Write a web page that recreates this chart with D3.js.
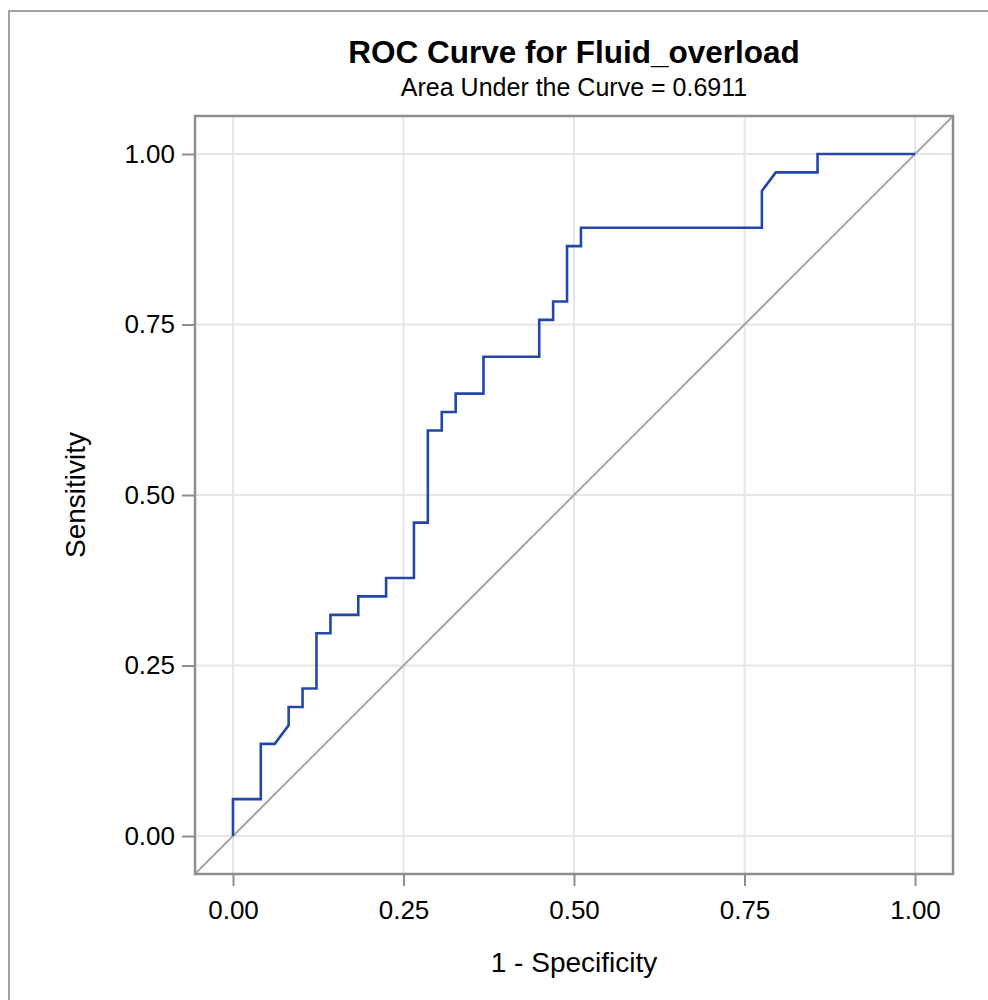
<!DOCTYPE html>
<html>
<head>
<meta charset="utf-8">
<script src="https://cdn.jsdelivr.net/npm/d3@7"></script>
<style>
  body { margin: 0; background: #fff; }
  text { font-family: "Liberation Sans", Arial, sans-serif; fill: #000; }
</style>
</head>
<body>
<script>
// ROC vertices (1 - specificity, sensitivity)
var fpr = [0, 0, 0.0408, 0.0408, 0.0612, 0.0816, 0.0816, 0.1020, 0.1020, 0.1224,
           0.1224, 0.1429, 0.1429, 0.1837, 0.1837, 0.2245, 0.2245, 0.2653, 0.2653, 0.2857,
           0.2857, 0.3061, 0.3061, 0.3265, 0.3265, 0.3673, 0.3673, 0.4490, 0.4490, 0.4694,
           0.4694, 0.4898, 0.4898, 0.5102, 0.5102, 0.7755, 0.7755, 0.7959, 0.8571, 0.8571, 1];
var tpr = [0, 0.0541, 0.0541, 0.1351, 0.1351, 0.1622, 0.1892, 0.1892, 0.2162, 0.2162,
           0.2973, 0.2973, 0.3243, 0.3243, 0.3514, 0.3514, 0.3784, 0.3784, 0.4595, 0.4595,
           0.5946, 0.5946, 0.6216, 0.6216, 0.6486, 0.6486, 0.7027, 0.7027, 0.7568, 0.7568,
           0.7838, 0.7838, 0.8649, 0.8649, 0.8919, 0.8919, 0.9459, 0.9730, 0.9730, 1, 1];
var ticks = [0, 0.25, 0.5, 0.75, 1];
var title = "ROC Curve for Fluid_overload";
var subtitle = "Area Under the Curve = 0.6911";
var x_label = "1 - Specificity",
    y_label = "Sensitivity";

var W = 988, H = 1000;
var plot = {left: 195, right: 953, top: 116, bottom: 874};
var pad = 0.0557;

var x_scale = d3.scaleLinear().domain([-pad, 1 + pad]).range([plot.left, plot.right]),
    y_scale = d3.scaleLinear().domain([-pad, 1 + pad]).range([plot.bottom, plot.top]);

var svg = d3.select("body").append("svg")
    .attr("width", W)
    .attr("height", H);

// outer panel border (top and left only visible)
svg.append("path")
    .attr("d", "M9,1000V11H988")
    .attr("fill", "none")
    .attr("stroke", "#a3a3a3")
    .attr("stroke-width", 2);

var cx = (plot.left + plot.right) / 2;

svg.append("text")
    .attr("x", cx).attr("y", 63)
    .attr("text-anchor", "middle")
    .style("font-size", "31.5px")
    .style("font-weight", "bold")
    .text(title);

svg.append("text")
    .attr("x", cx).attr("y", 96)
    .attr("text-anchor", "middle")
    .style("font-size", "25px")
    .text(subtitle);

svg.append("defs").append("clipPath")
    .attr("id", "clip")
  .append("rect")
    .attr("x", plot.left).attr("y", plot.top)
    .attr("width", plot.right - plot.left)
    .attr("height", plot.bottom - plot.top);

// gridlines
svg.append("g").selectAll("line")
    .data(ticks)
  .enter().append("line")
    .attr("x1", function(d) { return x_scale(d); })
    .attr("x2", function(d) { return x_scale(d); })
    .attr("y1", plot.top).attr("y2", plot.bottom)
    .attr("stroke", "#e6e6e6").attr("stroke-width", 2);

svg.append("g").selectAll("line")
    .data(ticks)
  .enter().append("line")
    .attr("y1", function(d) { return y_scale(d); })
    .attr("y2", function(d) { return y_scale(d); })
    .attr("x1", plot.left).attr("x2", plot.right)
    .attr("stroke", "#e6e6e6").attr("stroke-width", 2);

// reference diagonal
svg.append("line")
    .attr("clip-path", "url(#clip)")
    .attr("x1", x_scale(-pad)).attr("y1", y_scale(-pad))
    .attr("x2", x_scale(1 + pad)).attr("y2", y_scale(1 + pad))
    .attr("stroke", "#a6a6a6").attr("stroke-width", 2);

// ROC curve
var pts = fpr.map(function(d, i) { return [d, tpr[i]]; });
var line = d3.line()
    .x(function(d) { return x_scale(d[0]); })
    .y(function(d) { return y_scale(d[1]); });

svg.append("path")
    .datum(pts)
    .attr("clip-path", "url(#clip)")
    .attr("d", line)
    .attr("fill", "none")
    .attr("stroke", "#2247a8")
    .attr("stroke-width", 2.6)
    .attr("stroke-linejoin", "miter");

// axes
var x_axis = d3.axisBottom(x_scale).tickValues(ticks)
    .tickFormat(d3.format(".2f")).tickSize(12).tickSizeOuter(0).tickPadding(15);
var y_axis = d3.axisLeft(y_scale).tickValues(ticks)
    .tickFormat(d3.format(".2f")).tickSize(13).tickSizeOuter(0).tickPadding(7);

var gx = svg.append("g")
    .attr("transform", "translate(0," + plot.bottom + ")")
    .call(x_axis);
var gy = svg.append("g")
    .attr("transform", "translate(" + plot.left + ",0)")
    .call(y_axis);

[gx, gy].forEach(function(g) {
  g.select(".domain").remove();
  g.selectAll(".tick line").attr("stroke", "#8e8e8e").attr("stroke-width", 2);
  g.selectAll(".tick text")
      .style("font-size", "26px")
      .style("font-family", "'Liberation Sans', Arial, sans-serif")
      .attr("fill", "#000");
});

// plot frame
svg.append("rect")
    .attr("x", plot.left).attr("y", plot.top)
    .attr("width", plot.right - plot.left)
    .attr("height", plot.bottom - plot.top)
    .attr("fill", "none")
    .attr("stroke", "#8e8e8e")
    .attr("stroke-width", 2.5);

svg.append("text")
    .attr("x", cx).attr("y", 972)
    .attr("text-anchor", "middle")
    .style("font-size", "28px")
    .text(x_label);

svg.append("text")
    .attr("transform", "translate(85," + ((plot.top + plot.bottom) / 2) + ") rotate(-90)")
    .attr("text-anchor", "middle")
    .style("font-size", "28px")
    .text(y_label);
</script>
</body>
</html>
